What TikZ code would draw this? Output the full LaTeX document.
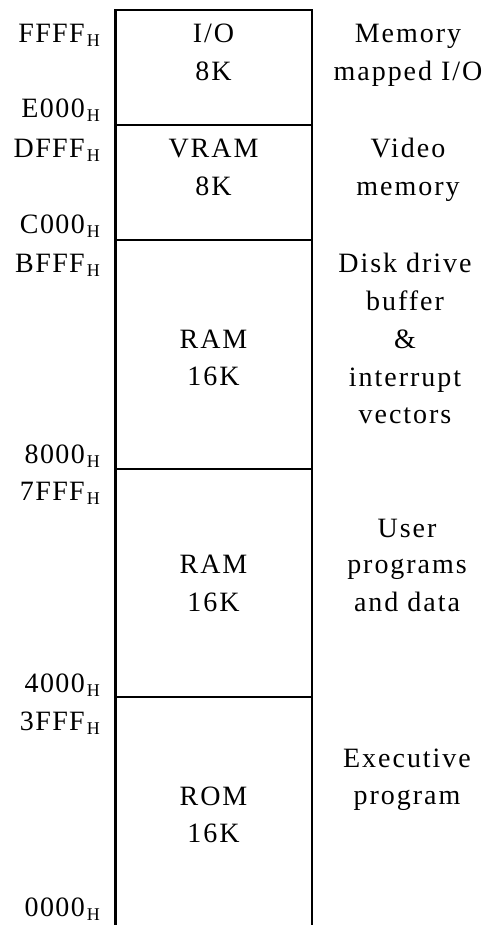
\documentclass[tikz,border=0pt]{standalone}
\usepackage{fontspec}
\setmainfont{Liberation Serif}
\newfontfamily\spacedserif[LetterSpace=7]{Liberation Serif}
\newfontfamily\addrserif[LetterSpace=5]{Liberation Serif}
% hexadecimal suffix
\newcommand\hexsub{\kern2bp\raisebox{-4bp}{\fontsize{18bp}{18bp}\selectfont H}}
\begin{document}
\begin{tikzpicture}[x=1bp,y=-1bp,
  addr/.style={anchor=base east, inner sep=0pt, font=\addrserif\fontsize{28bp}{28bp}\selectfont},
  lbl/.style={anchor=base, inner sep=0pt, font=\spacedserif\fontsize{28bp}{28bp}\selectfont},
  wall/.style={line width=2.2bp, line cap=butt}]
\useasboundingbox (0,0) rectangle (487,925);

% memory column outline (open at the bottom)
\coordinate (bl) at (115.5,925);
\coordinate (tl) at (115.5,10);
\coordinate (tr) at (312,10);
\coordinate (br) at (312,925);
\draw[wall] (bl) -- (tl) -- (tr) -- (br);

% region boundaries
\foreach \y/\n in {125/a,240/b,469/c,697/d}{
  \coordinate (\n l) at (115.5,\y);
  \coordinate (\n r) at (312,\y);
  \draw[wall] (\n l) -- (\n r);
}

% addresses
\node[addr] (ffff) at (100,42)  {FFFF\hexsub};
\node[addr] (e000) at (100,117) {E000\hexsub};
\node[addr] (dfff) at (100,157.5) {DFFF\hexsub};
\node[addr] (c000) at (100,233) {C000\hexsub};
\node[addr] (bfff) at (100,272) {BFFF\hexsub};
\node[addr] (x8000) at (100,463) {8000\hexsub};
\node[addr] (x7fff) at (100,500) {7FFF\hexsub};
\node[addr] (x4000) at (100,692) {4000\hexsub};
\node[addr] (x3fff) at (100,730) {3FFF\hexsub};
\node[addr] (x0000) at (100,916) {0000\hexsub};

% region contents
\node[lbl] (io1) at (213.5,42.5) {I/O};
\node[lbl] (io2) at (213.5,80.5) {8K};
\node[lbl] (vr1) at (213.5,157) {VRAM};
\node[lbl] (vr2) at (213.5,195) {8K};
\node[lbl] (ra1) at (213.5,348) {RAM};
\node[lbl] (ra2) at (213.5,385.5) {16K};
\node[lbl] (rb1) at (213.5,573) {RAM};
\node[lbl] (rb2) at (213.5,611) {16K};
\node[lbl] (ro1) at (213.5,805) {ROM};
\node[lbl] (ro2) at (213.5,842) {16K};

% region usage
\node[lbl] (u1) at (408,42.5) {Memory};
\node[lbl] (u2) at (408,80.5) {mapped I/O};
\node[lbl] (u3) at (408,157) {Video};
\node[lbl] (u4) at (408,195) {memory};
\node[lbl] (u5) at (405,272) {Disk drive};
\node[lbl] (u6) at (405,310) {buffer};
\node[lbl] (u7) at (405,348) {\&};
\node[lbl] (u8) at (405,386) {interrupt};
\node[lbl] (u9) at (405,423) {vectors};
\node[lbl] (u10) at (407,537) {User};
\node[lbl] (u11) at (407,573) {programs};
\node[lbl] (u12) at (407,611) {and data};
\node[lbl] (u13) at (407,767) {Executive};
\node[lbl] (u14) at (407,804) {program};
\end{tikzpicture}
\end{document}
